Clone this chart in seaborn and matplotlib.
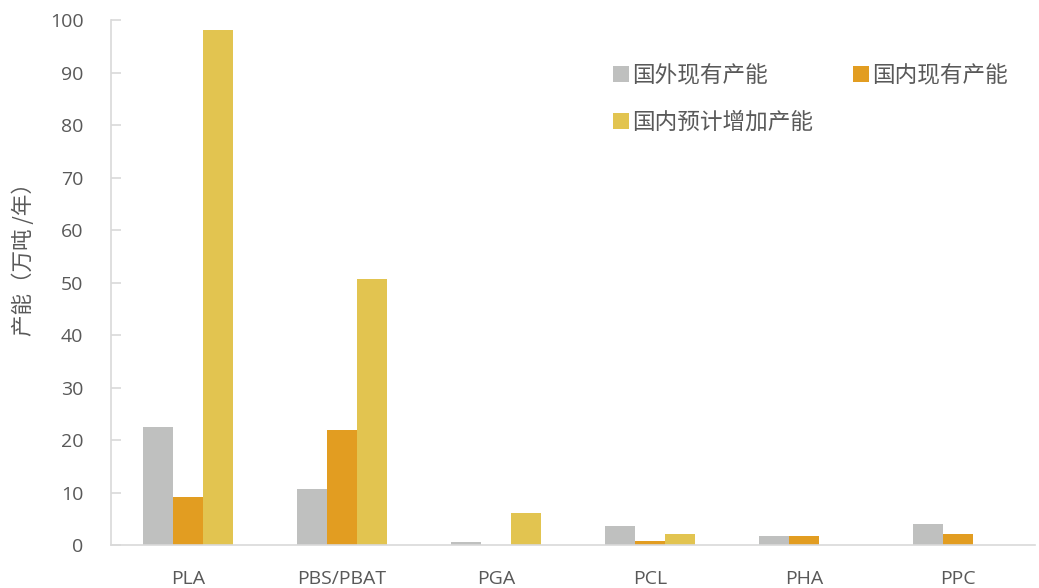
import matplotlib
matplotlib.use("Agg")
import matplotlib.pyplot as plt
import seaborn as sns
import pandas as pd

# Biodegradable plastics: capacity by material (10k tonnes / year)
materials = ["PLA", "PBS/PBAT", "PGA", "PCL", "PHA", "PPC"]
overseas_existing = [22.5, 10.6, 0.5, 3.7, 1.8, 4.1]
domestic_existing = [9.1, 21.9, 0.0, 0.7, 1.8, 2.1]
domestic_planned = [98.1, 50.6, 6.2, 2.2, 0.0, 0.0]
series_names = ["国外现有产能", "国内现有产能", "国内预计增加产能"]
colors = ["#BFC0BF", "#E29D21", "#E2C450"]

df = pd.DataFrame({
    "material": materials * 3,
    "value": overseas_existing + domestic_existing + domestic_planned,
    "series": [series_names[0]] * 6 + [series_names[1]] * 6 + [series_names[2]] * 6,
})

sns.set_theme(style="white")
plt.rcParams["font.family"] = ["Open Sans", "Noto Sans CJK SC", "DejaVu Sans"]
text_color = "#595959"
axis_color = "#D9D9D9"
cjk = ["Noto Sans CJK SC", "DejaVu Sans"]

fig = plt.figure(figsize=(10.39, 5.88), dpi=100)
ax = fig.add_axes([0.107, 0.073, 0.889, 0.893])

sns.barplot(data=df, x="material", y="value", hue="series",
            hue_order=series_names, palette=colors, width=0.585,
            saturation=1, ax=ax, edgecolor="none", linewidth=0)

ax.set_ylim(0, 100)
ax.set_yticks(range(0, 101, 10))
ax.set_xlim(-0.5, len(materials) - 0.5)
ax.set_xlabel("")
ax.set_ylabel("产能（万吨 /年）", fontsize=15.5, color=text_color, family=cjk)
ax.yaxis.set_label_coords(-0.082, 0.555)

for side in ["top", "right"]:
    ax.spines[side].set_visible(False)
for side in ["left", "bottom"]:
    ax.spines[side].set_color(axis_color)
    ax.spines[side].set_linewidth(1.2)

ax.tick_params(axis="y", direction="in", length=7, width=1.2, color=axis_color,
               labelsize=14, labelcolor=text_color, pad=20, left=True)
ax.tick_params(axis="x", length=0, labelsize=14, labelcolor=text_color, pad=18)

# Legend laid out row by row: the column-major fill needs reordering
handles, labels = ax.get_legend_handles_labels()
order = [0, 2, 1]
leg = ax.legend([handles[i] for i in order], [labels[i] for i in order],
                loc="upper left", bbox_to_anchor=(0.579, 0.91),
                bbox_transform=fig.transFigure, ncol=2, frameon=False,
                handlelength=0.7, handleheight=0.7, handletextpad=0.15,
                columnspacing=1.75, labelspacing=1.05, borderpad=0,
                prop={"family": cjk, "size": 16.3})
for t in leg.get_texts():
    t.set_color(text_color)

fig.savefig("out.png", dpi=100)
